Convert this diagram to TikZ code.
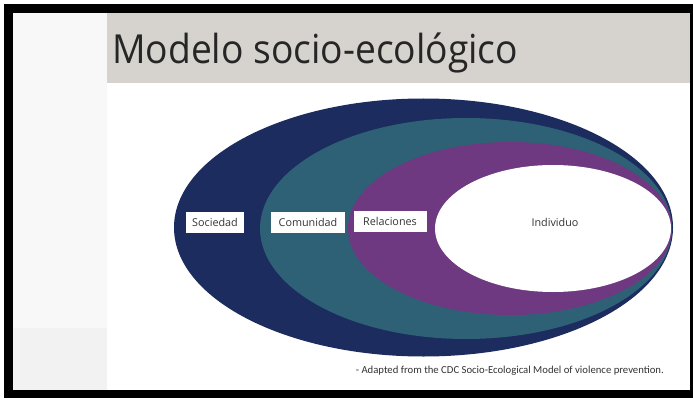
\documentclass[tikz,border=0pt]{standalone}
\usepackage{fontspec}
\setmainfont{Open Sans}
\newfontfamily\capfont{Carlito}
\definecolor{navyc}{RGB}{28,44,94}
\definecolor{tealc}{RGB}{46,97,118}
\definecolor{purplec}{RGB}{110,57,128}
\definecolor{bandc}{RGB}{214,210,206}
\definecolor{panelc}{RGB}{248,248,248}
\definecolor{panelcc}{RGB}{242,242,242}
\definecolor{textc}{RGB}{38,38,38}
\definecolor{labc}{RGB}{51,51,51}
\tikzset{
  labbox/.style={fill=white, inner sep=0pt, text=labc, font=\fontsize{10.8}{13}\selectfont, anchor=center},
}
\begin{document}
\begin{tikzpicture}[x=1pt,y=-1pt]
\useasboundingbox (0,0) rectangle (693,401);
\fill[white] (0,0) rectangle (693,401);
\fill[black] (4,4) rectangle (693,398);
\fill[white] (13,13) rectangle (690,390);
\fill[panelc] (13,13) rectangle (107,328);
\fill[panelcc] (13,328) rectangle (107,390);
\fill[bandc] (107,13) rectangle (690,83);
\node[anchor=base west, font=\fontsize{40}{48}\selectfont, text=textc, inner sep=0pt] (title) at (112,64) {\scalebox{0.93}[1]{Modelo socio-ecológico}};
% nested ellipses
\fill[navyc] (423.5,227.5) ellipse [x radius=249.5, y radius=129];
\fill[tealc] (466,228.5) ellipse [x radius=206, y radius=110.5];
\fill[purplec] (510,228.5) ellipse [x radius=162, y radius=86.5];
\fill[white] (553,228.5) ellipse [x radius=118, y radius=63.5];
% labels
\node[labbox, minimum width=58pt, minimum height=21pt] (soc) at (215,222.5) {Sociedad};
\node[labbox, minimum width=74pt, minimum height=21pt] (com) at (308,222.5) {Comunidad};
\node[labbox, minimum width=73pt, minimum height=21pt] (rel) at (390,221.5) {Relaciones};
\node[text=labc, font=\fontsize{10.8}{13}\selectfont, inner sep=0pt] (ind) at (555,222.5) {Individuo};
% caption
\node[anchor=base east, text=labc, font=\capfont\fontsize{10.7}{13}\selectfont, inner sep=0pt] (cap) at (664,373) {- Adapted from the CDC Socio-Ecological Model of violence prevention.};
\end{tikzpicture}
\end{document}
